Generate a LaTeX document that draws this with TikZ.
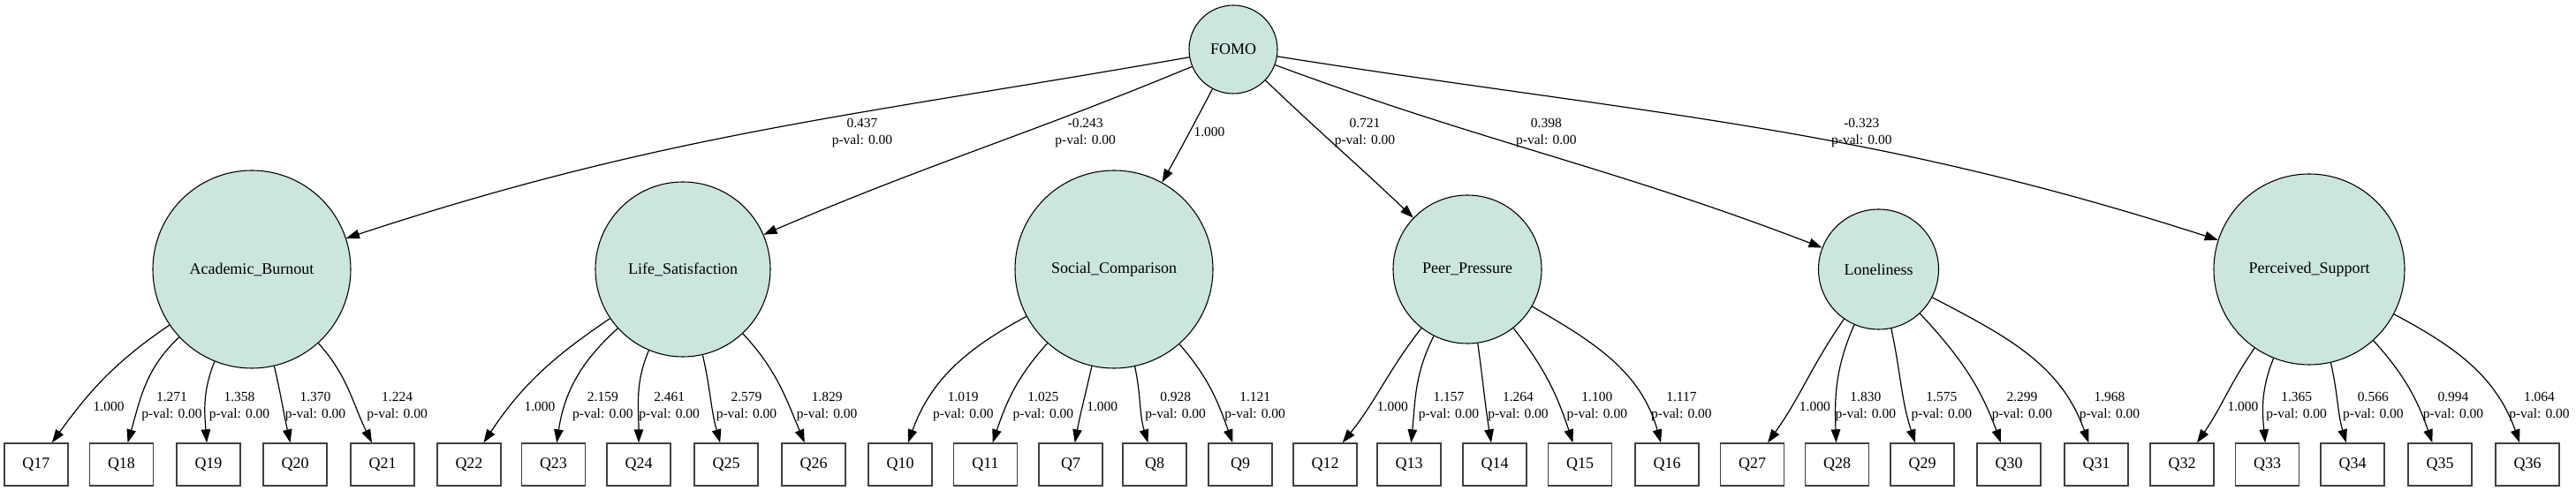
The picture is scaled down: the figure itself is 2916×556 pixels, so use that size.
\documentclass[tikz,border=0pt]{standalone}
\usepackage{fontspec}
\setmainfont{Liberation Serif}
\usetikzlibrary{arrows.meta}
\definecolor{latfill}{RGB}{203,229,223}
\begin{document}
\begin{tikzpicture}[x=0.25pt,y=0.25pt,
  lat/.style={circle,draw=black,line width=0.27pt,fill=latfill,inner sep=0pt,font=\fontsize{4.5}{5}\selectfont},
  obs/.style={rectangle,draw=black!75,line width=0.35pt,minimum width=18pt,minimum height=12pt,inner sep=0pt,font=\fontsize{4.5}{5}\selectfont},
  elab/.style={align=center,inner sep=0pt,font=\fontsize{3.875}{4.875}\selectfont},
  conn/.style={-{Triangle[length=3.75pt,width=2.625pt]},line width=0.3pt}]
\useasboundingbox (0,0) rectangle (2916,556);
% latent variables
\node[lat,minimum size=25pt] (fomo) at (1396,500) {FOMO};
\node[lat,minimum size=56pt] (ab) at (285,251) {Academic\_Burnout};
\node[lat,minimum size=49.5pt] (ls) at (773,251) {Life\_Satisfaction};
\node[lat,minimum size=56pt] (sc) at (1261,251) {Social\_Comparison};
\node[lat,minimum size=42pt] (pp) at (1661,251) {Peer\_Pressure};
\node[lat,minimum size=34pt] (lo) at (2126.5,251) {Loneliness};
\node[lat,minimum size=54pt] (ps) at (2614,251) {Perceived\_Support};
% indicators
\foreach \n/\x in {Q17/41,Q18/137.5,Q19/236,Q20/334,Q21/433,Q22/531,Q23/626.5,Q24/723,Q25/822,Q26/921,
  Q10/1019,Q11/1115.5,Q7/1212,Q8/1307,Q9/1404,Q12/1500,Q13/1595,Q14/1692,Q15/1788.5,Q16/1887,
  Q27/1983.5,Q28/2079.5,Q29/2176,Q30/2274,Q31/2373,Q32/2470,Q33/2566.5,Q34/2663,Q35/2762,Q36/2861}
  \node[obs] (\n) at (\x,30) {\n};
% structural paths
\draw[conn] (fomo) to[out=190,in=18.3] (ab);
\draw[conn] (fomo) to[out=202.7,in=23.4] (ls);
\draw[conn] (fomo) to[out=242.5,in=61.1] (sc);
\draw[conn] (fomo) to[out=316.3,in=136.6] (pp);
\draw[conn] (fomo) to[out=339.8,in=159] (lo);
\draw[conn] (fomo) to[out=351,in=162.2] (ps);
\node[elab] (s1) at (976,405.5) {0.437\\p-val: 0.00};
\node[elab] (s2) at (1228.7,405.5) {-0.243\\p-val: 0.00};
\node[elab] (s3) at (1369,406.4) {1.000};
\node[elab] (s4) at (1545,405.5) {0.721\\p-val: 0.00};
\node[elab] (s5) at (1750.4,405.5) {0.398\\p-val: 0.00};
\node[elab] (s6) at (2107.3,405.5) {-0.323\\p-val: 0.00};
% loadings
\foreach \a/\b/\o/\i in {ab/Q17/214.3/54.2, ab/Q18/223.2/74, ab/Q19/248.1/94.7, ab/Q20/283.3/102.9, ab/Q21/312.1/116.1,
  ls/Q22/214/56.5, ls/Q23/222.5/81.6, ls/Q24/247.7/90, ls/Q25/283/105.9, ls/Q26/313/112.8,
  sc/Q10/208.7/70.2, sc/Q11/228/71.9, sc/Q7/257.5/79.4, sc/Q8/282.5/107, sc/Q9/311.5/109.8,
  pp/Q12/232/51.5, pp/Q13/243.8/84.6, pp/Q14/278/99.3, pp/Q15/308.2/108.1, pp/Q16/330.4/105.9,
  lo/Q27/235.4/54.8, lo/Q28/246.7/92.3, lo/Q29/282.2/108.1, lo/Q30/313.2/110.2, lo/Q31/332.7/109.6,
  ps/Q32/235.8/55.6, ps/Q33/248.5/95.8, ps/Q34/283/106.3, ps/Q35/312.1/109.3, ps/Q36/332.2/109.8}
  \draw[conn] (\a) to[out=\o,in=\i] (\b);
\foreach \k/\x/\t in {1/123.1/{1.000}, 2/194.5/{1.271\\p-val: 0.00}, 3/271/{1.358\\p-val: 0.00}, 4/357/{1.370\\p-val: 0.00}, 5/449.6/{1.224\\p-val: 0.00},
  6/611/{1.000}, 7/682.4/{2.159\\p-val: 0.00}, 8/757.7/{2.461\\p-val: 0.00}, 9/845/{2.579\\p-val: 0.00}, 10/936.2/{1.829\\p-val: 0.00},
  11/1090.3/{1.019\\p-val: 0.00}, 12/1180.9/{1.025\\p-val: 0.00}, 13/1247.8/{1.000}, 14/1330.7/{0.928\\p-val: 0.00}, 15/1420.7/{1.121\\p-val: 0.00},
  16/1576.3/{1.000}, 17/1640/{1.157\\p-val: 0.00}, 18/1718.5/{1.264\\p-val: 0.00}, 19/1807.8/{1.100\\p-val: 0.00}, 20/1903.4/{1.117\\p-val: 0.00},
  21/2054.4/{1.000}, 22/2111.8/{1.830\\p-val: 0.00}, 23/2197.9/{1.575\\p-val: 0.00}, 24/2289/{2.299\\p-val: 0.00}, 25/2388/{1.968\\p-val: 0.00},
  26/2539/{1.000}, 27/2599.7/{1.365\\p-val: 0.00}, 28/2686.4/{0.566\\p-val: 0.00}, 29/2777/{0.994\\p-val: 0.00}, 30/2874.5/{1.064\\p-val: 0.00}}
  \node[elab] (m\k) at (\x,95.5) {\t};
\end{tikzpicture}
\end{document}
